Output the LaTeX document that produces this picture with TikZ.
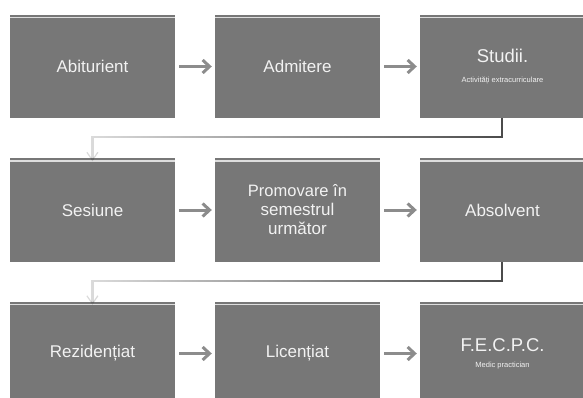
\documentclass[tikz,border=0pt]{standalone}
\usepackage{fontspec}
\setmainfont{Liberation Sans}
\usetikzlibrary{arrows.meta,fadings}
\definecolor{boxgray}{HTML}{777777}
\definecolor{arrgray}{HTML}{8C8C8C}
\definecolor{conngray}{HTML}{4A4A4A}
\definecolor{txtwhite}{HTML}{F2F2F2}
\tikzfading[name=fadeleft, left color=transparent!80, right color=transparent!0]
\tikzset{
  stagebox/.style={draw=none, fill=boxgray, minimum width=165pt, minimum height=103pt,
    inner sep=0pt, text=txtwhite, align=center, font=\fontsize{17}{19}\selectfont,
    path picture={\draw[white!75!boxgray, line width=1.5pt]
      ([yshift=-2.5pt]path picture bounding box.north west) -- ([yshift=-2.5pt]path picture bounding box.north east);}},
  flowarrow/.style={draw=arrgray, line width=3pt, -{Straight Barb[length=7pt,width=13pt]}},
  rowlink/.style={draw=conngray, line width=2.2pt, path fading=fadeleft,
    -{Straight Barb[length=8pt,width=11pt,line width=1.2pt]}}
}
\begin{document}
\begin{tikzpicture}[x=1pt,y=-1pt]
\useasboundingbox (0,0) rectangle (583,398);
\clip (0,0) rectangle (583,398);
% row 1
\node[stagebox] (a) at (92.5,66.5) {Abiturient};
\node[stagebox] (b) at (297.5,66.5) {Admitere};
\node[stagebox] (c) at (502.5,66.5) {\fontsize{18.5}{22}\selectfont Studii.\\[1pt]{\fontsize{7.5}{9}\selectfont Activități extracurriculare}};
% row 2
\node[stagebox] (d) at (92.5,210) {Sesiune};
\node[stagebox] (e) at (297.5,210) {\fontsize{16.5}{19}\selectfont Promovare în\\semestrul\\următor};
\node[stagebox] (f) at (502.5,210) {Absolvent};
% row 3
\node[stagebox] (g) at (92.5,353.5) {Rezidențiat};
\node[stagebox] (h) at (297.5,353.5) {Licențiat};
\node[stagebox] (i) at (502.5,353.5) {\fontsize{18.5}{22}\selectfont F.E.C.P.C.\\[-3pt]{\fontsize{7.5}{9}\selectfont Medic practician}};
% arrows within rows
\draw[flowarrow] ([xshift=4pt]a.east) -- ([xshift=-3pt]b.west);
\draw[flowarrow] ([xshift=4pt]b.east) -- ([xshift=-3pt]c.west);
\draw[flowarrow] ([xshift=4pt]d.east) -- ([xshift=-3pt]e.west);
\draw[flowarrow] ([xshift=4pt]e.east) -- ([xshift=-3pt]f.west);
\draw[flowarrow] ([xshift=4pt]g.east) -- ([xshift=-3pt]h.west);
\draw[flowarrow] ([xshift=4pt]h.east) -- ([xshift=-3pt]i.west);
% row links
\draw[rowlink] (c.south) -- ++(0,19) -| ([yshift=-3pt]d.north);
\draw[rowlink] (f.south) -- ++(0,19) -| ([yshift=-3pt]g.north);
\end{tikzpicture}
\end{document}
